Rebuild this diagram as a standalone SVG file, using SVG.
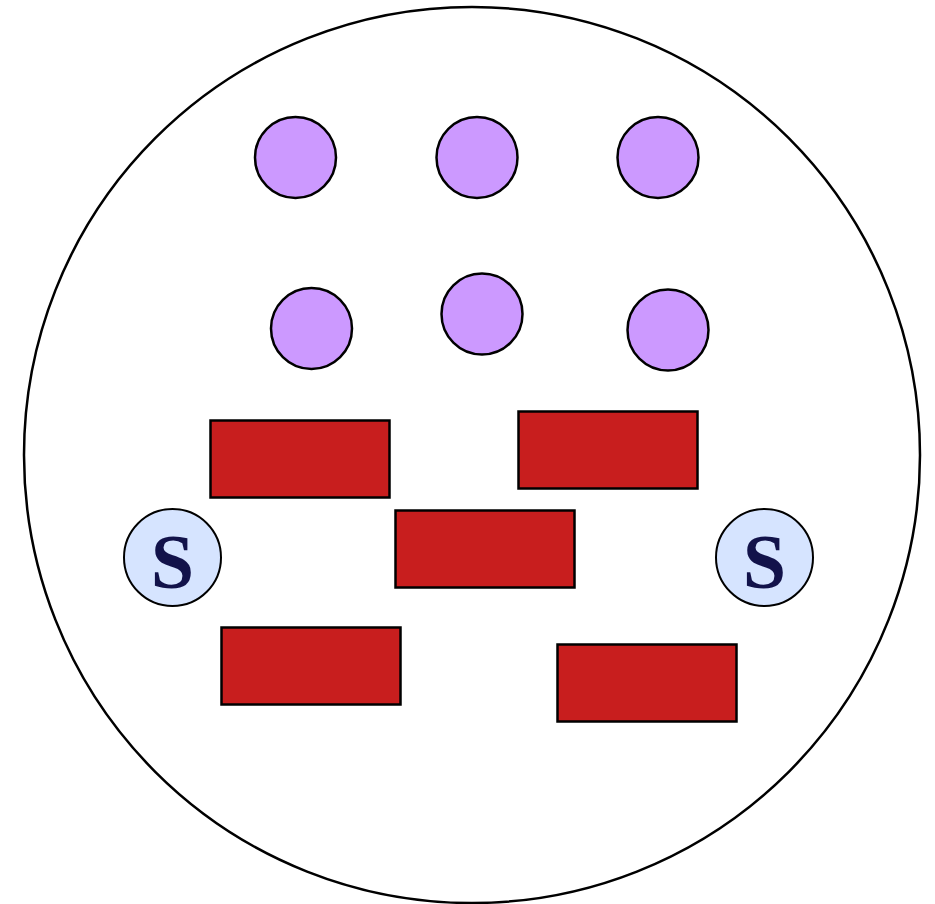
<svg xmlns="http://www.w3.org/2000/svg" width="935" height="904" viewBox="0 0 935 904">
<style>
.p{fill:#CC99FF;stroke:#000;stroke-width:2.5}
.r{fill:#C81E1E;stroke:#000;stroke-width:2.5}
.s{fill:#D6E4FF;stroke:#000;stroke-width:2}
.t{font-family:"Liberation Serif",serif;font-weight:bold;font-size:78px;fill:#12124A;text-anchor:middle}
</style>
<rect width="935" height="904" fill="#fff"/>
<g id="outer"><circle cx="472" cy="455" r="448" fill="#fff" stroke="#000" stroke-width="2.5"/></g>
<g id="p1"><circle class="p" cx="295.5" cy="157.5" r="40.5"/></g>
<g id="p2"><circle class="p" cx="477" cy="157.5" r="40.5"/></g>
<g id="p3"><circle class="p" cx="658" cy="157.5" r="40.5"/></g>
<g id="p4"><circle class="p" cx="311.5" cy="328.5" r="40.5"/></g>
<g id="p5"><circle class="p" cx="482" cy="314" r="40.5"/></g>
<g id="p6"><circle class="p" cx="668" cy="330" r="40.5"/></g>
<g id="r1"><rect class="r" x="210.5" y="420.5" width="179" height="77"/></g>
<g id="r2"><rect class="r" x="518.5" y="411.5" width="179" height="77"/></g>
<g id="r3"><rect class="r" x="395.5" y="510.5" width="179" height="77"/></g>
<g id="r4"><rect class="r" x="221.5" y="627.5" width="179" height="77"/></g>
<g id="r5"><rect class="r" x="557.5" y="644.5" width="179" height="77"/></g>
<g id="s1"><circle class="s" cx="172.5" cy="557.5" r="48.5"/><text class="t" x="172.5" y="588">S</text></g>
<g id="s2"><circle class="s" cx="764.5" cy="557.5" r="48.5"/><text class="t" x="764.5" y="588">S</text></g>
<g id="connectors"></g>
</svg>
